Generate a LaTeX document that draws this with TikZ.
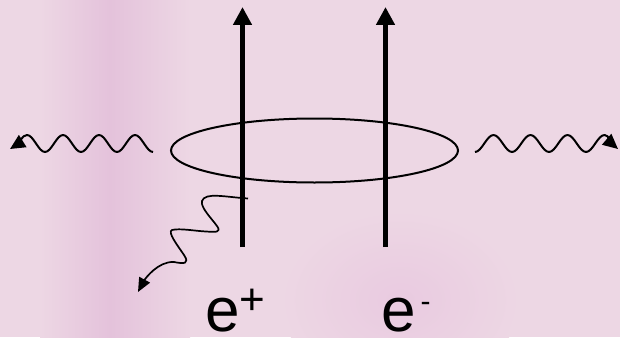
\documentclass[tikz,border=0pt]{standalone}
\usepackage{fontspec}
\setmainfont{Liberation Sans}
\usetikzlibrary{arrows.meta,shapes.geometric}
\definecolor{bgbase}{RGB}{237,215,228}
\definecolor{bgband}{RGB}{228,194,219}
\definecolor{bgblob}{RGB}{233,202,224}
\tikzset{
  fermion/.style={line width=5.5pt, -{Triangle[length=18pt,width=18pt]}},
  loopline/.style={draw, ellipse, line width=2pt, inner sep=0pt},
  wavy/.style={line width=2pt, line join=round, -{Triangle[length=15pt,width=14pt]}},
  emitted/.style={line width=1.7pt, line join=round, -{Triangle[length=14pt,width=12pt]}},
  particle/.style={inner sep=0pt, anchor=base west, text depth=0pt, font=\fontsize{62}{62}\selectfont}
}
\begin{document}
\begin{tikzpicture}[x=1pt,y=-1pt]
\useasboundingbox (0,0) rectangle (620,337);
% background
\fill[bgbase] (0,0) rectangle (620,337);
\shade[left color=bgbase, right color=bgband] (40,0) rectangle (110,337);
\shade[left color=bgband, right color=bgbase] (110,0) rectangle (190,337);
\shade[inner color=bgblob, outer color=bgbase] (400,300) ellipse (120 and 90);
% loop
\node[loopline, minimum width=287pt, minimum height=64pt] (loop) at (314.5,150.5) {};
% fermion lines
\coordinate (pb) at (242.5,247);
\coordinate (pt) at (242.5,7);
\coordinate (eb) at (385.5,247);
\coordinate (et) at (385.5,7);
\draw[fermion] (pb) -- (pt);
\draw[fermion] (eb) -- (et);
% left photon
\coordinate (wl) at (153,152);
\coordinate (wlend) at (10,149);
\draw[wavy] (wl)
  cos ++(-9,-8.5) sin ++(-9,-8.5) cos ++(-9,8.5) sin ++(-9,8.5)
  cos ++(-9,-8.5) sin ++(-9,-8.5) cos ++(-9,8.5) sin ++(-9,8.5)
  cos ++(-9,-8.5) sin ++(-9,-8.5) cos ++(-9,8.5) sin ++(-9,8.5)
  cos ++(-9,-8.5) sin ++(-9,-8.5)
  .. controls (22,135) and (18,144) .. (wlend);
% right photon
\coordinate (wr) at (475,152);
\coordinate (wrend) at (618,149);
\draw[wavy] (wr)
  cos ++(9.25,-8.5) sin ++(9.25,-8.5) cos ++(9.25,8.5) sin ++(9.25,8.5)
  cos ++(9.25,-8.5) sin ++(9.25,-8.5) cos ++(9.25,8.5) sin ++(9.25,8.5)
  cos ++(9.25,-8.5) sin ++(9.25,-8.5) cos ++(9.25,8.5) sin ++(9.25,8.5)
  cos ++(9.25,-8.5) sin ++(9.25,-8.5)
  .. controls (609,135) and (611,143) .. (wrend);
% emitted photon
\coordinate (ps) at (248,198.5);
\coordinate (pe) at (138,292);
\draw[emitted] (ps)
  .. controls (225,197) and (205,192) .. (202,201)
  .. controls (200,207) and (212,219) .. (217,226)
  .. controls (222,233) and (215,232) .. (206,231.5)
  .. controls (195,231) and (180,228) .. (172,230)
  .. controls (167,232) and (178,246) .. (184,255)
  .. controls (190,264) and (184,264) .. (174,262)
  .. controls (158,261) and (145,279) .. (pe);
% labels
\node[particle] (lpos) at (205,331) {e\raisebox{16.6pt}{\fontsize{44}{44}\selectfont +}};
\node[particle] (lele) at (381,331) {e\kern5pt\raisebox{20pt}{\fontsize{30}{30}\selectfont -}};
\end{tikzpicture}
\end{document}
